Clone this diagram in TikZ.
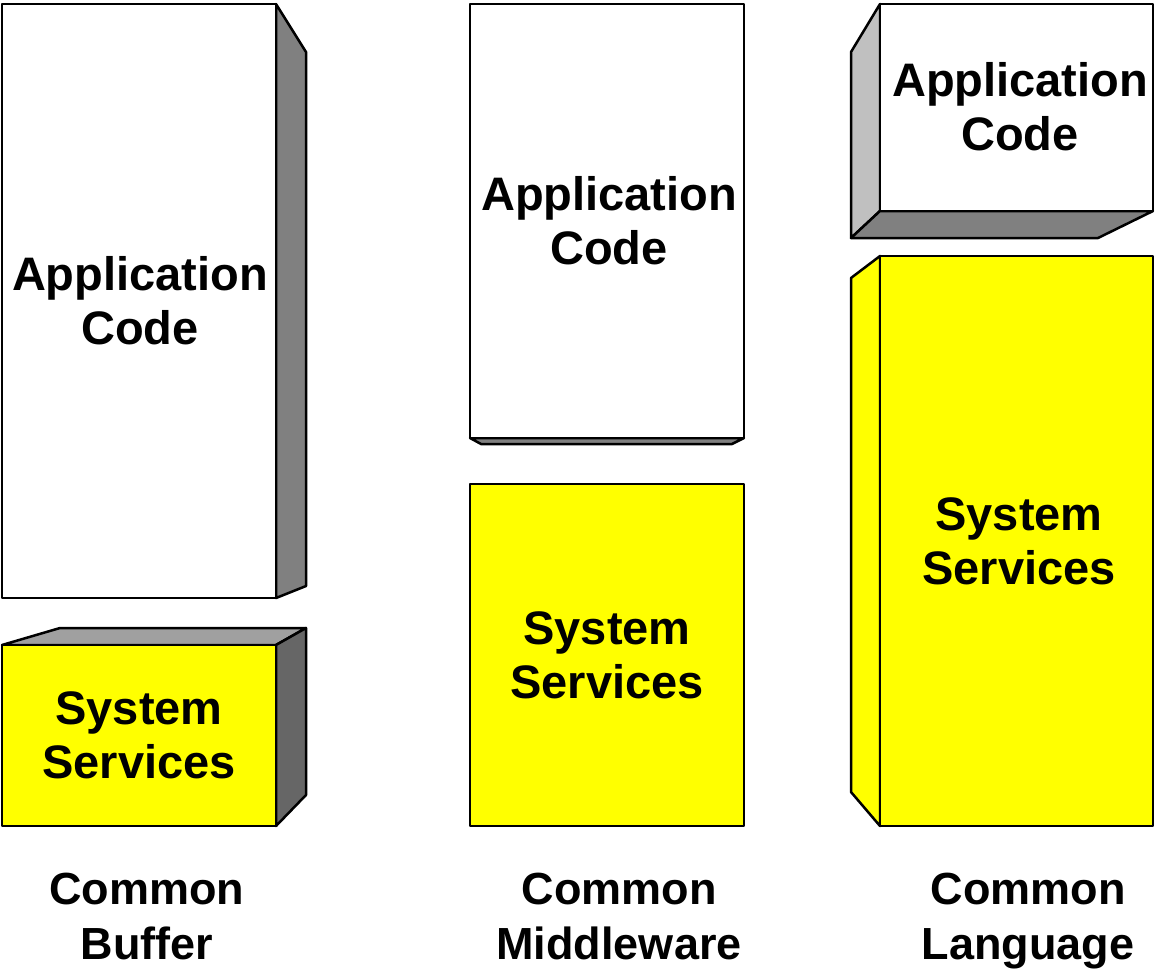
\documentclass[tikz,border=0pt]{standalone}
\usepackage{fontspec}
\setmainfont{Liberation Sans}
\begin{document}
\begin{tikzpicture}[x=1pt,y=-1pt,
  face/.style={draw=black,line width=2.5pt,line join=round},
  lbl/.style={font=\fontsize{47}{54}\selectfont\bfseries,align=center,inner sep=0pt},
  captxt/.style={font=\fontsize{45}{55}\selectfont\bfseries,align=center,inner sep=0pt}]
\useasboundingbox (0,0) rectangle (1155,969);
\definecolor{ylw}{RGB}{255,255,0}
% Column 1: Application code
\filldraw[face,fill={rgb,255:red,128;green,128;blue,128}] (276,4) -- (306,52) -- (306,586) -- (276,598) -- cycle;
\filldraw[face,fill=white] (2,4) rectangle (276,598);
\node[lbl] (app1) at (140,301) {Application\\Code};
% Column 1: System services
\filldraw[face,fill={rgb,255:red,160;green,160;blue,160}] (2,645) -- (60,628) -- (306,628) -- (276,645) -- cycle;
\filldraw[face,fill={rgb,255:red,102;green,102;blue,102}] (276,645) -- (306,628) -- (306,795) -- (276,826) -- cycle;
\filldraw[face,fill=ylw] (2,645) rectangle (276,826);
\node[lbl] (sys1) at (139,735) {System\\Services};
% Column 2
\filldraw[face,fill={rgb,255:red,128;green,128;blue,128}] (470,438) -- (481,444) -- (732,444) -- (744,438) -- cycle;
\filldraw[face,fill=white] (470,4) rectangle (744,438);
\node[lbl] (app2) at (609,221) {Application\\Code};
\filldraw[face,fill=ylw] (470,484) rectangle (744,826);
\node[lbl] (sys2) at (607,655) {System\\Services};
% Column 3
\filldraw[face,fill={rgb,255:red,192;green,192;blue,192}] (880,4) -- (851,52) -- (851,238) -- (880,211) -- cycle;
\filldraw[face,fill={rgb,255:red,128;green,128;blue,128}] (851,238) -- (880,211) -- (1153,211) -- (1098,238) -- cycle;
\filldraw[face,fill=white] (880,4) rectangle (1153,211);
\node[lbl] (app3) at (1020,107) {Application\\Code};
\filldraw[face,fill=ylw] (880,256) -- (851,278) -- (851,792) -- (880,826) -- cycle;
\filldraw[face,fill=ylw] (880,256) rectangle (1153,826);
\node[lbl] (sys3) at (1019,541) {System\\Services};
% Captions
\node[captxt,anchor=north] (c1) at (147,873) {Common\\Buffer};
\node[captxt,anchor=north] (c2) at (619,873) {Common\\Middleware};
\node[captxt,anchor=north] (c3) at (1028,873) {Common\\Language};
\end{tikzpicture}
\end{document}
